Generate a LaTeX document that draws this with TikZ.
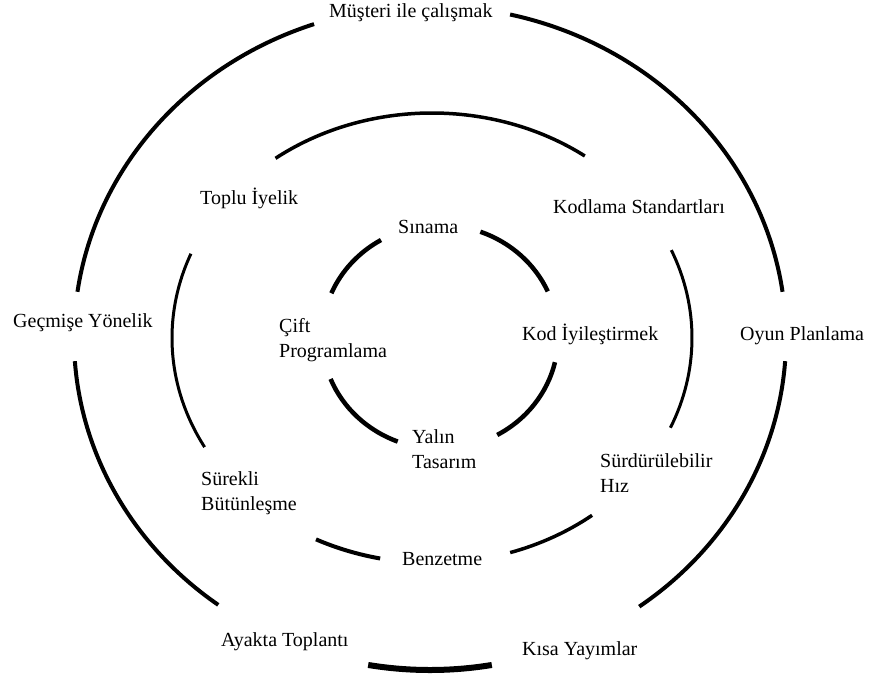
\documentclass[tikz,border=0pt]{standalone}
\usepackage{fontspec}
\setmainfont{Liberation Serif}
\begin{document}
\begin{tikzpicture}[x=1pt,y=-1pt,
  lbl/.style={anchor=base west,inner sep=0pt,font=\fontsize{20}{25}\selectfont,align=left},
  ring/.style={draw=black,line cap=butt}]
\useasboundingbox[fill=white] (0,0) rectangle (871,681);

% outer ring: centre (430,338), radii 356 x 332
\coordinate (oc) at (430,338);
\draw[ring,line width=4pt] (oc) ++(-77:356 and 332) arc[start angle=-77,end angle=-8,x radius=356,y radius=332];
\draw[ring,line width=4pt] (oc) ++(4:356 and 332) arc[start angle=4,end angle=54,x radius=356,y radius=332];
\draw[ring,line width=6pt] (oc) ++(80:356 and 332) arc[start angle=80,end angle=100,x radius=356,y radius=332];
\draw[ring,line width=4pt] (oc) ++(126.5:356 and 332) arc[start angle=126.5,end angle=176,x radius=356,y radius=332];
\draw[ring,line width=4pt] (oc) ++(188:356 and 332) arc[start angle=188,end angle=251,x radius=356,y radius=332];

% middle ring: centre (432,338), radii 260 x 225
\coordinate (mc) at (432,338);
\draw[ring,line width=3.5pt] (mc) ++(-127:260 and 225) arc[start angle=-127,end angle=-54,x radius=260,y radius=225];
\draw[ring,line width=3pt] (mc) ++(-23:260 and 225) arc[start angle=-23,end angle=23.5,x radius=260,y radius=225];
\draw[ring,line width=3.5pt] (mc) ++(52:260 and 225) arc[start angle=52,end angle=72.5,x radius=260,y radius=225];
\draw[ring,line width=4pt] (mc) ++(101.5:260 and 225) arc[start angle=101.5,end angle=116.5,x radius=260,y radius=225];
\draw[ring,line width=3pt] (mc) ++(151:260 and 225) arc[start angle=151,end angle=202,x radius=260,y radius=225];

% inner ring: centre (440,337), radii 118 x 112
\coordinate (ic) at (440,337);
\draw[ring,line width=4.5pt] (ic) ++(203:118 and 112) arc[start angle=203,end angle=240,x radius=118,y radius=112];
\draw[ring,line width=4.5pt] (ic) ++(-70:118 and 112) arc[start angle=-70,end angle=-24,x radius=118,y radius=112];
\draw[ring,line width=4.5pt] (ic) ++(13:118 and 112) arc[start angle=13,end angle=61,x radius=118,y radius=112];
\draw[ring,line width=4.5pt] (ic) ++(111:118 and 112) arc[start angle=111,end angle=158,x radius=118,y radius=112];

% practice labels (two-line labels are placed by the baseline of their last line)
\node[lbl] (musteri) at (329,17) {Müşteri ile çalışmak};
\node[lbl] (toplu) at (200,204) {Toplu İyelik};
\node[lbl] (kodlama) at (553,213) {Kodlama Standartları};
\node[lbl] (sinama) at (398,233) {Sınama};
\node[lbl] (gecmise) at (13,327) {Geçmişe Yönelik};
\node[lbl] (cift) at (279,357) {Çift\\Programlama};
\node[lbl] (kodiyi) at (522,340) {Kod İyileştirmek};
\node[lbl] (oyun) at (740,340) {Oyun Planlama};
\node[lbl] (yalin) at (412,468) {Yalın\\Tasarım};
\node[lbl] (surdur) at (600,492) {Sürdürülebilir\\Hız};
\node[lbl] (surekli) at (201,510) {Sürekli\\Bütünleşme};
\node[lbl] (benzetme) at (402,565) {Benzetme};
\node[lbl] (ayakta) at (221,646) {Ayakta Toplantı};
\node[lbl] (kisa) at (522,655) {Kısa Yayımlar};
\end{tikzpicture}
\end{document}
